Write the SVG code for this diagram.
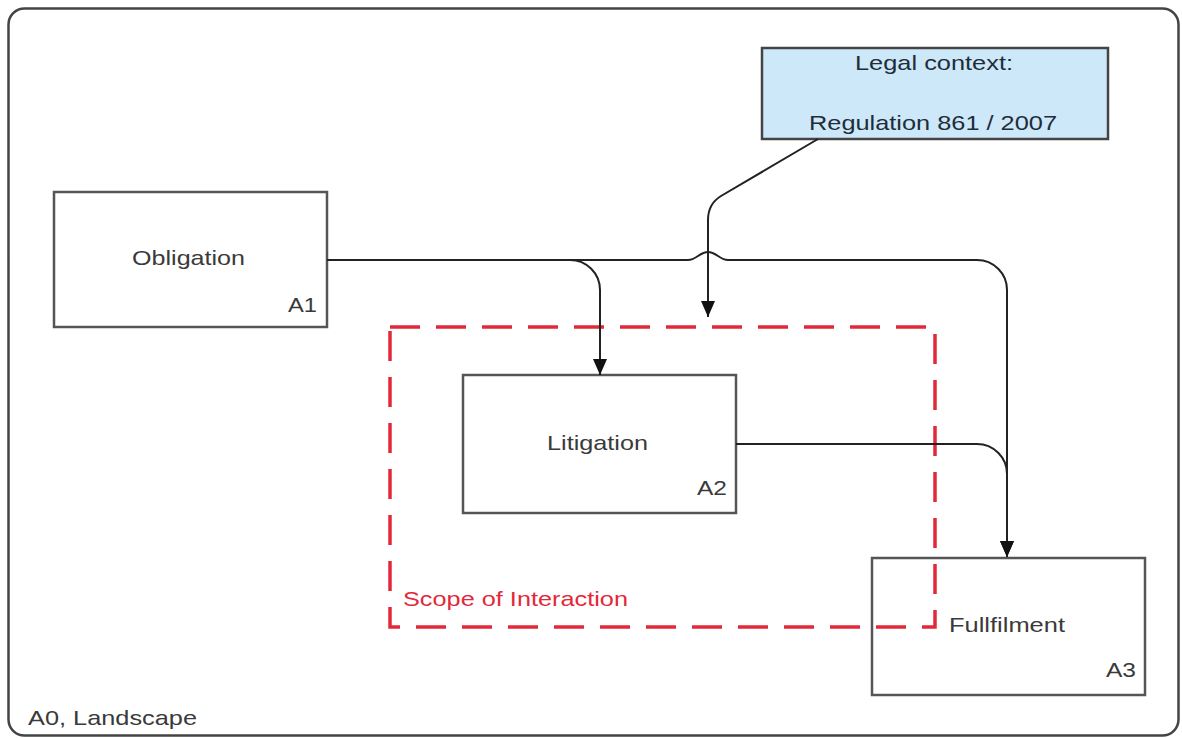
<svg xmlns="http://www.w3.org/2000/svg" width="1182" height="738" viewBox="0 0 1182 738">
<style>
  .frame{fill:#fff;stroke:#444;stroke-width:2.5}
  .box{fill:#fff;stroke:#555;stroke-width:2.5}
  .legal{fill:#cde8f9;stroke:#444;stroke-width:2.5}
  .lbl{font-family:"Liberation Sans",Arial,sans-serif;font-size:21px;fill:#3a3a3a}
  .legtxt{font-family:"Liberation Sans",Arial,sans-serif;font-size:21px;fill:#1f2d3a}
  .conn{fill:none;stroke:#222;stroke-width:2}
  .scope{fill:none;stroke:#e3283a;stroke-width:3.5;stroke-dasharray:30 16}
  .scopetxt{font-family:"Liberation Sans",Arial,sans-serif;font-size:21px;fill:#e3283a}
</style>
<defs>
  <marker id="arr" viewBox="0 0 16 14" refX="16" refY="7" markerWidth="16" markerHeight="14" markerUnits="userSpaceOnUse" orient="auto">
    <path d="M0,0 L16,7 L0,14 z" fill="#111"/>
  </marker>
</defs>
<rect class="frame" x="8.5" y="8.5" width="1170" height="727" rx="16"/>
<text class="lbl" x="28" y="725" textLength="169" lengthAdjust="spacingAndGlyphs">A0, Landscape</text>

<g id="legal">
  <rect class="legal" x="762" y="48" width="346" height="91"/>
  <text class="legtxt" x="855" y="70" textLength="158" lengthAdjust="spacingAndGlyphs">Legal context:</text>
  <text class="legtxt" x="809" y="130" textLength="248" lengthAdjust="spacingAndGlyphs">Regulation 861 / 2007</text>
</g>

<g id="obligation">
  <rect class="box" x="54" y="192" width="273" height="135"/>
  <text class="lbl" x="132" y="265" textLength="113" lengthAdjust="spacingAndGlyphs">Obligation</text>
  <text class="lbl" x="288" y="312" textLength="29" lengthAdjust="spacingAndGlyphs">A1</text>
</g>

<g id="litigation">
  <rect class="box" x="463" y="375" width="273" height="138"/>
  <text class="lbl" x="547" y="450" textLength="101" lengthAdjust="spacingAndGlyphs">Litigation</text>
  <text class="lbl" x="697" y="495" textLength="30" lengthAdjust="spacingAndGlyphs">A2</text>
</g>

<g id="fullfilment">
  <rect class="box" x="872" y="558" width="273" height="137"/>
  <text class="lbl" x="949" y="632" textLength="116" lengthAdjust="spacingAndGlyphs">Fullfilment</text>
  <text class="lbl" x="1106" y="677" textLength="30" lengthAdjust="spacingAndGlyphs">A3</text>
</g>

<g id="scope">
  <rect class="scope" x="390" y="327" width="545" height="300"/>
  <text class="scopetxt" x="403" y="606" textLength="225" lengthAdjust="spacingAndGlyphs">Scope of Interaction</text>
</g>

<g id="connectors">
  <path class="conn" d="M327,260 H570 A30,30 0 0 1 600,290 V375" marker-end="url(#arr)"/>
  <path class="conn" d="M327,260 H688 C696,260 700,252 708,252 C716,252 720,260 728,260 H977 A30,30 0 0 1 1007,290 V557" marker-end="url(#arr)"/>
  <path class="conn" d="M818,139 L721,196 Q708,204 708,220 V317" marker-end="url(#arr)"/>
  <path class="conn" d="M736,444 H977 A30,30 0 0 1 1007,474 V557" marker-end="url(#arr)"/>
</g>
</svg>
